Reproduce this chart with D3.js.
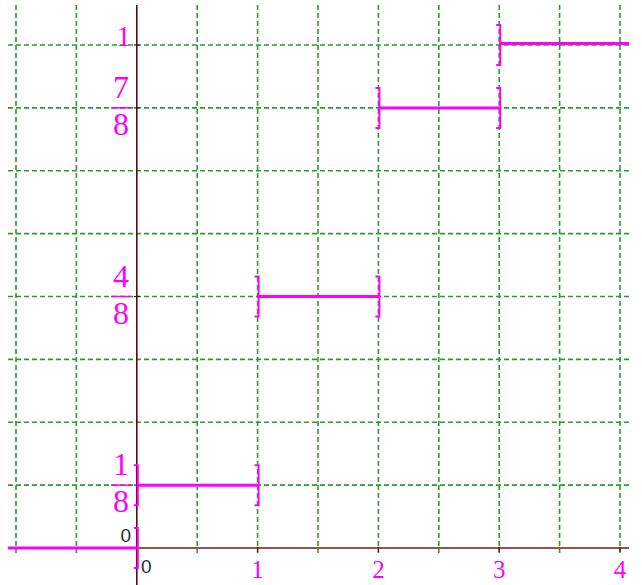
<!DOCTYPE html>
<html>
<head>
  <title>Step distribution function</title>
  <script src="https://d3js.org/d3.v7.min.js"></script>
  <style>
    body { margin: 0; background: #fff; }
    .grid line { stroke: #2e9a2e; stroke-width: 1.6; stroke-dasharray: 5 3; }
    .step { stroke: #ff00ff; stroke-width: 3; }
    .bracket { fill: none; stroke: #ff00ff; stroke-width: 2; }
    .lbl { fill: #ff00ff; font-family: "Liberation Serif", "Times New Roman", serif; }
    .zero { fill: #2a2a3a; font-family: "Liberation Sans", Arial, sans-serif; font-size: 19px; }
  </style>
</head>
<body>
  <svg width="642" height="585"></svg>

  <script>
    // jump points and the value of the function on each piece
    const jumps = [0, 1, 2, 3];
    const levels = [0, 1 / 8, 4 / 8, 7 / 8, 1];
    // visible x range (the first and last pieces run off the plot)
    const xMin = -1.066, xMax = 4.075;
    // grid steps
    const xGrid = d3.range(-1, 4.01, 0.5);
    const yGrid = d3.range(1, 9).map(k => k / 8);
    // axis labels
    const xTicks = [1, 2, 3, 4];
    const yFractions = [{ v: 1 / 8, num: "1", den: "8" }, { v: 4 / 8, num: "4", den: "8" }, { v: 7 / 8, num: "7", den: "8" }];
    const yPlain = [{ v: 1, text: "1" }];

    const svg = d3.select("svg");
    const x = d3.scaleLinear().domain([-1, 4]).range([16, 620]);
    const y = d3.scaleLinear().domain([0, 1]).range([548, 45]);

    // grid
    const grid = svg.append("g").attr("class", "grid");
    grid.selectAll(".v").data(xGrid.filter(d => d !== 0)).enter().append("line")
      .attr("x1", d => x(d)).attr("x2", d => x(d))
      .attr("y1", 5).attr("y2", 553);
    grid.selectAll(".h").data(yGrid).enter().append("line")
      .attr("x1", 8).attr("x2", 630)
      .attr("y1", d => y(d)).attr("y2", d => y(d));

    // axes
    svg.append("line").attr("x1", x(0)).attr("x2", 629).attr("y1", y(0)).attr("y2", y(0))
      .attr("stroke", "#a0504c").attr("stroke-width", 2);
    svg.append("line").attr("x1", x(0)).attr("x2", x(0)).attr("y1", 5).attr("y2", 585)
      .attr("stroke", "#5a0a10").attr("stroke-width", 1.6);
    svg.selectAll(".xt").data(xTicks).enter().append("line")
      .attr("x1", d => x(d)).attr("x2", d => x(d))
      .attr("y1", y(0) - 1).attr("y2", y(0) + 4)
      .attr("stroke", "#222").attr("stroke-width", 1.2);
    svg.selectAll(".yt").data(levels.slice(1)).enter().append("line")
      .attr("x1", x(0) - 3).attr("x2", x(0) + 3)
      .attr("y1", d => y(d)).attr("y2", d => y(d))
      .attr("stroke", "#222").attr("stroke-width", 1.2);

    // pieces of the step function
    const pieces = levels.map((v, i) => ({
      v,
      a: i === 0 ? xMin : jumps[i - 1],
      b: i === levels.length - 1 ? xMax : jumps[i],
      openA: i === 0, openB: i === levels.length - 1
    }));

    svg.selectAll(".step").data(pieces).enter().append("line")
      .attr("class", "step")
      .attr("x1", d => x(d.a)).attr("x2", d => x(d.b))
      .attr("y1", d => y(d.v) - (d.v === 1 ? 1.5 : 0))
      .attr("y2", d => y(d.v) - (d.v === 1 ? 1.5 : 0));

    const ends = [];
    pieces.forEach(p => {
      if (!p.openA) ends.push({ x: p.a, v: p.v });
      if (!p.openB) ends.push({ x: p.b, v: p.v });
    });
    const h = 20, s = 4;
    svg.selectAll(".bracket").data(ends).enter().append("path")
      .attr("class", "bracket")
      .attr("d", d => {
        const px = x(d.x) + 1, py = y(d.v);
        return `M${px - s},${py - h}H${px}V${py + h}H${px - s}`;
      });

    // labels
    svg.selectAll(".xl").data(xTicks).enter().append("text")
      .attr("class", "lbl")
      .attr("x", d => x(d)).attr("y", 578)
      .attr("text-anchor", "middle").attr("font-size", 25)
      .text(d => d);

    const fr = svg.selectAll(".fr").data(yFractions).enter().append("g");
    fr.append("text").attr("class", "lbl").attr("font-size", 32)
      .attr("text-anchor", "middle")
      .attr("x", 121).attr("y", d => y(d.v) - 10).text(d => d.num);
    fr.append("line").attr("stroke", "#ff00ff").attr("stroke-width", 1.5)
      .attr("x1", 111).attr("x2", 131)
      .attr("y1", d => y(d.v)).attr("y2", d => y(d.v));
    fr.append("text").attr("class", "lbl").attr("font-size", 32)
      .attr("text-anchor", "middle")
      .attr("x", 121).attr("y", d => y(d.v) + 27).text(d => d.den);

    svg.selectAll(".yp").data(yPlain).enter().append("text")
      .attr("class", "lbl").attr("font-size", 29)
      .attr("text-anchor", "end")
      .attr("x", 131).attr("y", d => y(d.v) + 1).text(d => d.text);

    svg.append("text").attr("class", "zero").attr("text-anchor", "end")
      .attr("x", 131).attr("y", 542).text("0");
    svg.append("text").attr("class", "zero")
      .attr("x", 141).attr("y", 573).text("0");
  </script>
</body>
</html>
